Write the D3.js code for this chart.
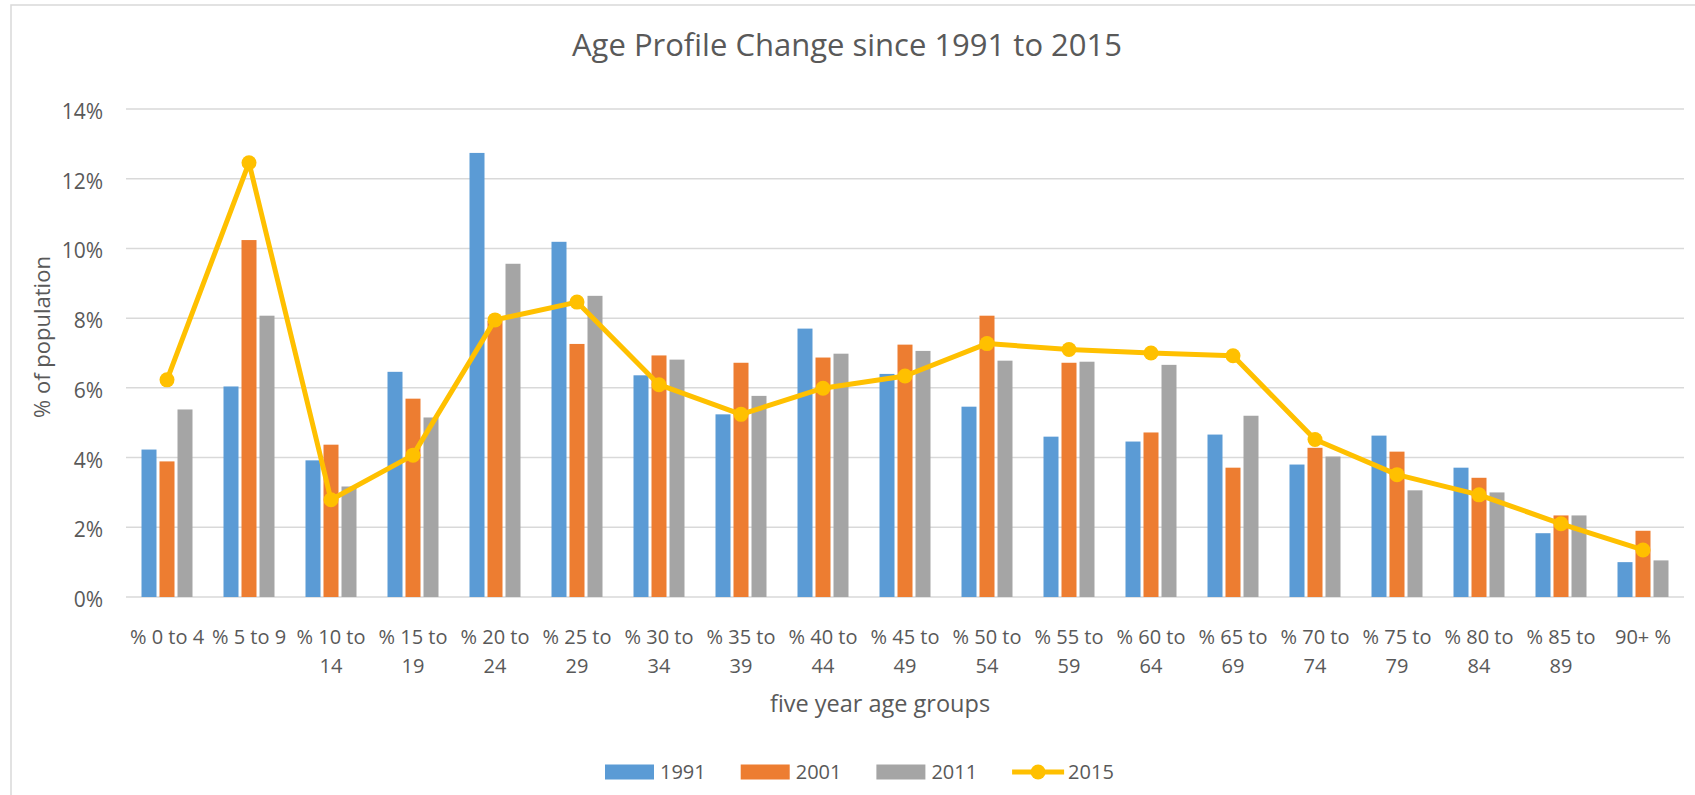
<!DOCTYPE html>
<html>
<head>
<meta charset="utf-8">
<script src="https://cdn.jsdelivr.net/npm/d3@7"></script>
<style>
    body { margin: 0; background: #ffffff; overflow: hidden; }
    .chart text { font-family: "Open Sans", sans-serif; fill: #595959; }
</style>
</head>
<body>
<div class="chart"></div>
<script>
const categories = ['% 0 to 4', '% 5 to 9', '% 10 to 14', '% 15 to 19', '% 20 to 24', '% 25 to 29',
    '% 30 to 34', '% 35 to 39', '% 40 to 44', '% 45 to 49', '% 50 to 54', '% 55 to 59',
    '% 60 to 64', '% 65 to 69', '% 70 to 74', '% 75 to 79', '% 80 to 84', '% 85 to 89', '90+ %']
const barYears = ['1991', '2001', '2011']
const lineYear = '2015'
const values1991 = [4.23, 6.04, 3.92, 6.46, 12.74, 10.19, 6.36, 5.24, 7.70, 6.40, 5.46, 4.60, 4.46, 4.66, 3.80, 4.63, 3.71, 1.83, 1.00]
const values2001 = [3.89, 10.24, 4.37, 5.69, 7.92, 7.26, 6.93, 6.72, 6.87, 7.24, 8.07, 6.72, 4.72, 3.71, 4.28, 4.17, 3.42, 2.34, 1.90]
const values2011 = [5.38, 8.07, 3.17, 5.15, 9.56, 8.64, 6.81, 5.77, 6.98, 7.06, 6.78, 6.75, 6.66, 5.20, 4.03, 3.06, 3.00, 2.34, 1.05]
const values2015 = [6.23, 12.46, 2.79, 4.07, 7.95, 8.46, 6.09, 5.24, 5.99, 6.34, 7.27, 7.10, 7.00, 6.92, 4.52, 3.51, 2.93, 2.10, 1.35]
const yTicks = [0, 2, 4, 6, 8, 10, 12, 14]

const barColors = { '1991': '#5B9BD5', '2001': '#ED7D31', '2011': '#A5A5A5' }
const lineColor = '#FFC000'

class AgeChart {
    constructor(_element) {
        this.width = 1695
        this.height = 795
        this.margin = { left: 126, right: 11, top: 109, bottom: 198 }

        this.svg = d3.select(_element).append('svg')
            .attr('width', this.width)
            .attr('height', this.height)

        this.x0 = d3.scaleBand()
            .domain(categories)
            .range([this.margin.left, this.width - this.margin.right])
        // three bars per group, 15px wide with a 3px gap
        this.x1 = d3.scaleBand()
            .domain(barYears)
            .range([0, 51])
            .paddingInner(1 / 6)
        this.y = d3.scaleLinear()
            .domain([0, 14])
            .range([this.height - this.margin.bottom, this.margin.top])

        this.drawFrame()
        this.drawGrid()
        this.drawBars()
        this.drawLine()
        this.drawAxes()
        this.drawLegend()
    }

    drawFrame() {
        this.svg.append('rect')
            .attr('x', 11)
            .attr('y', 5)
            .attr('width', this.width + 20)
            .attr('height', this.height + 20)
            .attr('fill', 'none')
            .attr('stroke', '#d9d9d9')
            .attr('stroke-width', 1.5)

        this.svg.append('text')
            .attr('x', 847)
            .attr('y', 45)
            .attr('dy', '0.35em')
            .attr('text-anchor', 'middle')
            .style('font-size', '31px')
            .text('Age Profile Change since 1991 to 2015')
    }

    drawGrid() {
        this.svg.append('g')
            .selectAll('line')
            .data(yTicks)
            .enter()
            .append('line')
            .attr('x1', this.margin.left)
            .attr('x2', this.width - this.margin.right)
            .attr('y1', d => this.y(d))
            .attr('y2', d => this.y(d))
            .attr('stroke', '#d9d9d9')
            .attr('stroke-width', 1.5)
    }

    drawBars() {
        const rows = categories.map((c, i) => ({
            cat: c,
            vals: [values1991[i], values2001[i], values2011[i]]
        }))
        const offset = (this.x0.bandwidth() - 51) / 2

        this.svg.append('g')
            .selectAll('g')
            .data(rows)
            .enter()
            .append('g')
            .attr('transform', d => 'translate(' + (this.x0(d.cat) + offset) + ',0)')
            .selectAll('rect')
            .data(d => d.vals.map((v, j) => ({ year: barYears[j], v: v })))
            .enter()
            .append('rect')
            .attr('x', d => this.x1(d.year))
            .attr('width', this.x1.bandwidth())
            .attr('y', d => this.y(d.v))
            .attr('height', d => this.y(0) - this.y(d.v))
            .attr('fill', d => barColors[d.year])
    }

    drawLine() {
        const cx = (d, i) => this.x0(categories[i]) + this.x0.bandwidth() / 2
        const line = d3.line()
            .x(cx)
            .y(d => this.y(d))

        this.svg.append('path')
            .datum(values2015)
            .attr('d', line)
            .attr('fill', 'none')
            .attr('stroke', lineColor)
            .attr('stroke-width', 5)
            .attr('stroke-linejoin', 'round')

        this.svg.append('g')
            .selectAll('circle')
            .data(values2015)
            .enter()
            .append('circle')
            .attr('cx', cx)
            .attr('cy', d => this.y(d))
            .attr('r', 7.5)
            .attr('fill', lineColor)
    }

    drawAxes() {
        const yAxis = d3.axisLeft(this.y)
            .tickValues(yTicks)
            .tickFormat(d => d + '%')
            .tickSize(0)
            .tickPadding(23)
        const gy = this.svg.append('g')
            .attr('transform', 'translate(' + this.margin.left + ',0)')
            .call(yAxis)
        gy.select('.domain').remove()
        gy.selectAll('text')
            .attr('dy', '0.45em')
            .style('font-size', '21px')

        const xAxis = d3.axisBottom(this.x0)
            .tickSize(0)
            .tickPadding(0)
        const gx = this.svg.append('g')
            .attr('transform', 'translate(0,' + this.y(0) + ')')
            .call(xAxis)
        gx.select('.domain').remove()
        gx.selectAll('text')
            .attr('y', 40)
            .attr('dy', '0.35em')
            .style('font-size', '20px')
            .call(this.wrap, this.x0.bandwidth())

        this.svg.append('text')
            .attr('x', 880)
            .attr('y', 704)
            .attr('dy', '0.35em')
            .attr('text-anchor', 'middle')
            .style('font-size', '23.5px')
            .text('five year age groups')

        this.svg.append('text')
            .attr('transform', 'translate(42,337) rotate(-90)')
            .attr('dy', '0.35em')
            .attr('text-anchor', 'middle')
            .style('font-size', '22px')
            .text('% of population')
    }

    wrap(_texts, _width) {
        _texts.each(function () {
            const text = d3.select(this)
            const words = text.text().split(' ')
            const y = +text.attr('y')
            text.text(null)
            let line = []
            let lines = []
            words.forEach(w => {
                line.push(w)
                text.text(line.join(' '))
                if (text.node().getComputedTextLength() > _width && line.length > 1) {
                    line.pop()
                    lines.push(line.join(' '))
                    line = [w]
                }
            })
            lines.push(line.join(' '))
            text.text(null)
            lines.forEach((l, i) => {
                text.append('tspan')
                    .attr('x', 0)
                    .attr('y', y + 29 * i)
                    .attr('dy', '0.35em')
                    .text(l)
            })
        })
    }

    drawLegend() {
        const items = barYears.concat([lineYear])
        const g = this.svg.append('g')
            .selectAll('g')
            .data(items)
            .enter()
            .append('g')
            .attr('transform', (d, i) => 'translate(' + (605 + i * 135.7) + ',772)')

        g.filter(d => d !== lineYear)
            .append('rect')
            .attr('y', -7.5)
            .attr('width', 49)
            .attr('height', 15)
            .attr('fill', d => barColors[d])

        const lg = g.filter(d => d === lineYear)
        lg.append('line')
            .attr('x1', 0)
            .attr('x2', 52)
            .attr('stroke', lineColor)
            .attr('stroke-width', 5)
        lg.append('circle')
            .attr('cx', 26)
            .attr('r', 7.5)
            .attr('fill', lineColor)

        g.append('text')
            .attr('x', d => d === lineYear ? 56 : 55)
            .attr('dy', '0.35em')
            .style('font-size', '20px')
            .text(d => d)
    }
}

new AgeChart(document.querySelector('.chart'))
</script>
</body>
</html>
